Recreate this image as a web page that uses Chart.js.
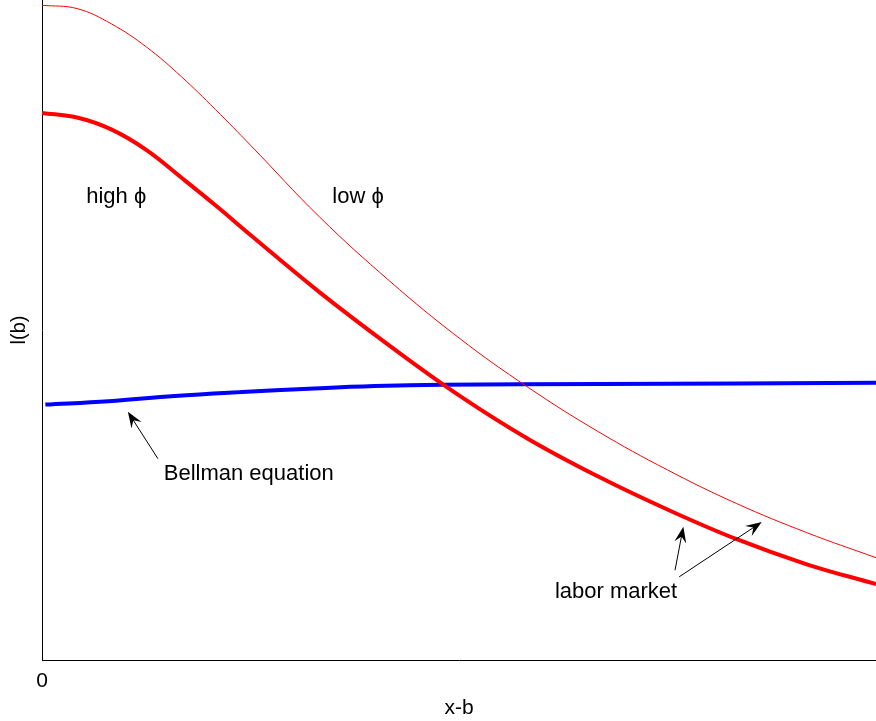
<!DOCTYPE html>
<html>
<head>
<meta charset="utf-8">
<script src="https://cdn.jsdelivr.net/npm/chart.js@4"></script>
<style>
  html, body { margin: 0; padding: 0; background: #fff; }
  #wrap { width: 876px; height: 721px; }
</style>
</head>
<body>
<div id="wrap"><canvas id="lbchart"></canvas></div>
<script>
// x-b sample positions shared by both labor market curves
const xGrid = [0, 0.42, 0.83, 1.25, 1.67, 2.08, 2.5, 3.33, 4.17, 5, 5.83, 6.67, 7.5, 8.33, 9.17, 10];

// low phi labor market curve (thin red)
const lowPhiY = [9.92, 9.87, 9.64, 9.29, 8.84, 8.34, 7.80, 6.71, 5.74, 4.88, 4.13, 3.46, 2.88, 2.37, 1.93, 1.55];

// high phi labor market curve (thick red)
const highPhiY = [8.29, 8.22, 8.04, 7.73, 7.31, 6.89, 6.44, 5.57, 4.76, 4.01, 3.35, 2.78, 2.28, 1.83, 1.45, 1.15];

// Bellman equation curve (blue)
const bellmanX = [0.04, 0.80, 1.59, 2.40, 3.20, 3.99, 4.80, 6.69, 10];
const bellmanY = [3.87, 3.92, 4.00, 4.06, 4.11, 4.15, 4.17, 4.18, 4.20];

const xTickValues = [0];

function pts(xs, ys) {
  return xs.map((x, i) => ({ x: x, y: ys[i] }));
}

// text and arrows, placed in data units
const notes = [
  { text: 'high \u03d5', x: 0.89, y: 7.01, align: 'center' },
  { text: 'low \u03d5', x: 3.79, y: 7.01, align: 'center' },
  { text: 'Bellman equation', x: 1.46, y: 2.82, align: 'left' },
  { text: 'labor market', x: 6.15, y: 1.03, align: 'left' }
];
const arrows = [
  { from: [1.39, 3.05], to: [1.03, 3.76] },
  { from: [7.59, 1.36], to: [7.69, 2.02] },
  { from: [7.64, 1.26], to: [8.63, 2.09] }
];

const annotate = {
  id: 'annotate',
  afterDatasetsDraw(chart) {
    const ctx = chart.ctx;
    const xs = chart.scales.x, ys = chart.scales.y;
    ctx.save();
    ctx.fillStyle = '#000';
    ctx.font = '22px "Liberation Sans", "DejaVu Sans", Arial, sans-serif';
    ctx.textBaseline = 'middle';
    notes.forEach(n => {
      ctx.textAlign = n.align;
      ctx.fillText(n.text, xs.getPixelForValue(n.x), ys.getPixelForValue(n.y));
    });
    arrows.forEach(a => {
      const x0 = xs.getPixelForValue(a.from[0]), y0 = ys.getPixelForValue(a.from[1]);
      const x1 = xs.getPixelForValue(a.to[0]), y1 = ys.getPixelForValue(a.to[1]);
      const ang = Math.atan2(y1 - y0, x1 - x0);
      ctx.strokeStyle = '#000';
      ctx.lineWidth = 1;
      ctx.beginPath();
      ctx.moveTo(x0, y0);
      ctx.lineTo(x1 - 6 * Math.cos(ang), y1 - 6 * Math.sin(ang));
      ctx.stroke();
      // barbed head
      ctx.save();
      ctx.translate(x1, y1);
      ctx.rotate(ang);
      ctx.beginPath();
      ctx.moveTo(0, 0);
      ctx.lineTo(-16, -6);
      ctx.lineTo(-10, 0);
      ctx.lineTo(-16, 6);
      ctx.closePath();
      ctx.fill();
      ctx.restore();
    });
    ctx.restore();
  }
};

new Chart(document.getElementById('lbchart'), {
  type: 'line',
  data: {
    datasets: [{
      data: pts(xGrid, lowPhiY),
      borderColor: '#ff0000',
      borderWidth: 1
    }, {
      data: pts(xGrid, highPhiY),
      borderColor: '#ff0000',
      borderWidth: 4
    }, {
      data: pts(bellmanX, bellmanY),
      borderColor: '#0000ff',
      borderWidth: 4
    }]
  },
  options: {
    responsive: true,
    maintainAspectRatio: false,
    animation: false,
    layout: { padding: 0 },
    elements: {
      point: { radius: 0 },
      line: { tension: 0.4 }
    },
    plugins: {
      legend: { display: false },
      tooltip: { enabled: false }
    },
    scales: {
      x: {
        type: 'linear',
        min: 0,
        max: 10,
        grid: { display: false, drawTicks: false },
        border: { display: true, color: '#000', width: 1 },
        afterBuildTicks: s => { s.ticks = xTickValues.map(v => ({ value: v })); },
        afterFit: s => { s.height = 61; },
        ticks: {
          color: '#000',
          padding: 9,
          maxRotation: 0,
          font: { family: '"Liberation Sans", Arial, sans-serif', size: 21 }
        },
        title: {
          display: true,
          text: 'x-b',
          color: '#000',
          padding: { top: 5, bottom: 0 },
          font: { family: '"Liberation Sans", Arial, sans-serif', size: 21 }
        }
      },
      y: {
        min: 0,
        max: 10,
        grid: { display: false, drawTicks: false },
        border: { display: true, color: '#000', width: 1 },
        ticks: { display: false },
        afterFit: s => { s.width = 42; },
        title: {
          display: true,
          text: 'l(b)',
          color: '#000',
          padding: { top: 7, bottom: 0 },
          font: { family: '"Liberation Sans", Arial, sans-serif', size: 20 }
        }
      }
    }
  },
  plugins: [annotate]
});
</script>
</body>
</html>
